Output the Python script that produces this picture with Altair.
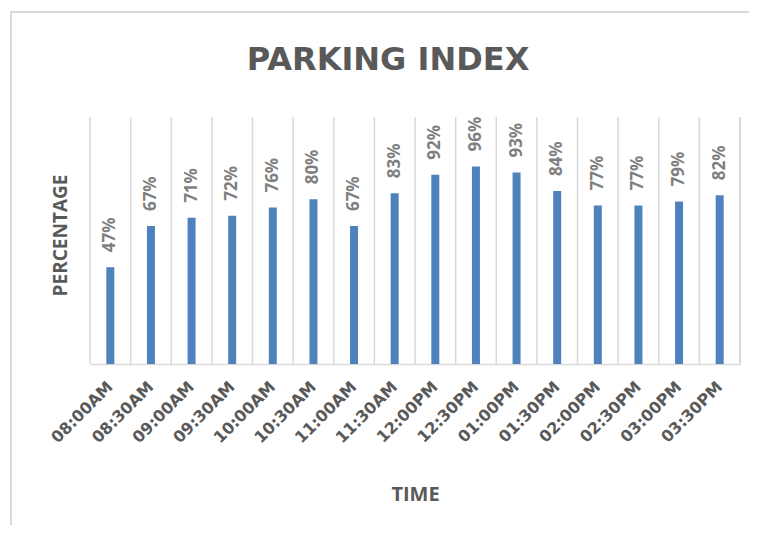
import altair as alt
import pandas as pd

times = ["08:00AM", "08:30AM", "09:00AM", "09:30AM", "10:00AM", "10:30AM",
         "11:00AM", "11:30AM", "12:00PM", "12:30PM", "01:00PM", "01:30PM",
         "02:00PM", "02:30PM", "03:00PM", "03:30PM"]
values = [0.47, 0.67, 0.71, 0.72, 0.76, 0.80, 0.67, 0.83, 0.92, 0.96, 0.93,
          0.84, 0.77, 0.77, 0.79, 0.82]

df = pd.DataFrame({"time": times, "value": values})

W, H = 650, 247
FONT = "Open Sans"
GRID = "#d9d9d9"
TXT = "#595959"

xscale = alt.Scale(domain=times, paddingInner=0, paddingOuter=0)
yscale = alt.Scale(domain=[0, 1.2], nice=False)

xaxis = alt.Axis(title="TIME", labelAngle=-45, labelAlign="right",
                 labelBaseline="middle", labelPadding=20,
                 ticks=False, domainColor=GRID, domainWidth=1.5,
                 labelFont="DejaVu Sans", labelFontWeight="bold",
                 labelFontSize=16, labelColor=TXT,
                 titleFont=FONT, titleFontWeight="bold",
                 titleFontSize=20, titleColor=TXT, titlePadding=39,
                 grid=False)
yaxis = alt.Axis(title="PERCENTAGE", labels=False, ticks=False,
                 domain=False, grid=False, titleFont=FONT,
                 titleFontWeight="bold", titleFontSize=19,
                 titleColor=TXT, titlePadding=20, titleY=118)

base = alt.Chart(df)

grid = base.mark_rule(color=GRID, strokeWidth=1.5).encode(
    x=alt.X("time:N", scale=xscale, sort=times, bandPosition=0, axis=xaxis),
    y=alt.value(0),
    y2=alt.value(H),
)

right_edge = base.mark_rule(color=GRID, strokeWidth=1.5).encode(
    x=alt.value(W), y=alt.value(0), y2=alt.value(H)
)

# outer chart frame
frame_left = base.mark_rule(color=GRID, strokeWidth=2).encode(
    x=alt.value(-79), y=alt.value(-105), y2=alt.value(420)
)
frame_top = base.mark_rule(color=GRID, strokeWidth=2).encode(
    x=alt.value(-80), x2=alt.value(680), y=alt.value(-105)
)

bars = base.mark_bar(color="#4f81bd", size=8).encode(
    x=alt.X("time:N", scale=xscale, sort=times, axis=xaxis),
    y=alt.Y("value:Q", scale=yscale, axis=yaxis),
)

labels = base.mark_text(angle=270, align="left", baseline="middle", dx=15,
                        font=FONT, fontSize=17, fontWeight="bold",
                        color="#7f7f7f").encode(
    x=alt.X("time:N", scale=xscale, sort=times, axis=xaxis),
    y=alt.Y("value:Q", scale=yscale, axis=yaxis),
    text=alt.Text("value:Q", format=".0%"),
)

chart = alt.layer(grid, right_edge, frame_left, frame_top, bars, labels).properties(
    width=W, height=H,
    title=alt.TitleParams("PARKING INDEX", font="DejaVu Sans", fontSize=32,
                          fontWeight="bold", color=TXT, anchor="middle",
                          dx=-27, offset=-91, baseline="alphabetic"),
    autosize=alt.AutoSizeParams(type="none"),
    padding={"left": 82, "top": 109, "right": 9, "bottom": 161},
).configure_view(stroke=None)

chart.save("out.html", embed_options={"renderer": "svg", "actions": False})
